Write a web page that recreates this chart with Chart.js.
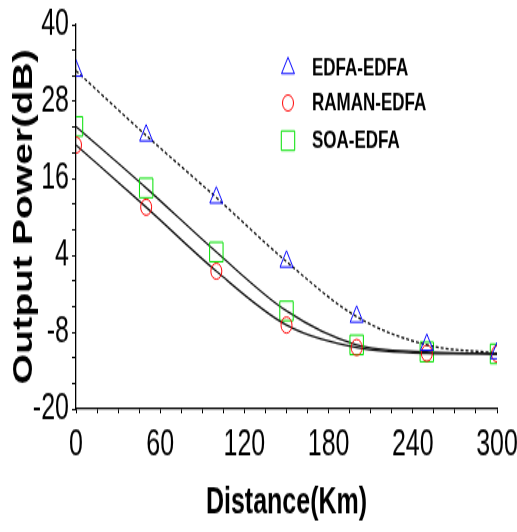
<!DOCTYPE html>
<html>
<head>
<meta charset="utf-8">
<script src="https://cdn.jsdelivr.net/npm/chart.js@4.4.0/dist/chart.umd.min.js"></script>
<style>
  html, body { margin: 0; padding: 0; background: #fff; }
  body { height: 532px; }
  /* the source figure is stretched vertically, so the whole chart is drawn squat and scaled */
  #wrap { width: 517px; height: 367px; transform: scaleY(1.45); transform-origin: 0 0; }
</style>
</head>
<body>
<div id="wrap"><canvas id="chart" width="517" height="367"></canvas></div>
<script>
const distances = [0, 50, 100, 150, 200, 250, 300];
const edfaEdfa = [32.8, 22.7, 13.0, 3.0, -5.6, -10.0, -11.3];
const ramanEdfa = [21.2, 11.5, 1.5, -6.9, -10.4, -11.3, -11.4];
const soaEdfa = [24.1, 14.5, 4.5, -4.7, -10.0, -11.1, -11.4];
const seriesNames = ['EDFA-EDFA', 'RAMAN-EDFA', 'SOA-EDFA'];
const xLabelEvery = 60;
const yLabelValues = [-20, -8, 4, 16, 28, 40];

const FONT = "'Liberation Sans', Arial, sans-serif";

function toPoints(values) {
    return distances.map((d, i) => ({ x: d, y: values[i] }));
}

function series(label, values, color, style, radius, dash) {
    return {
        label,
        data: toPoints(values),
        borderColor: '#111',
        borderWidth: 1.3,
        borderDash: dash,
        cubicInterpolationMode: 'monotone',
        pointStyle: style,
        pointRadius: radius,
        pointBorderColor: color,
        pointBackgroundColor: 'rgba(0,0,0,0)',
        pointBorderWidth: 1,
        fill: false
    };
}

const insideLegend = {
    id: 'insideLegend',
    afterDraw(chart) {
        const { ctx } = chart;
        const rows = [47, 71, 97];
        ctx.save();
        chart.data.datasets.forEach((ds, i) => {
            ctx.strokeStyle = ds.pointBorderColor;
            ctx.fillStyle = 'rgba(0,0,0,0)';
            ctx.lineWidth = 1;
            Chart.helpers.drawPoint(ctx, {
                pointStyle: ds.pointStyle,
                radius: ds.pointRadius,
                rotation: 0,
                borderWidth: 1
            }, 288, rows[i]);
            ctx.fillStyle = '#000';
            ctx.font = `bold 17px ${FONT}`;
            ctx.textBaseline = 'middle';
            ctx.textAlign = 'left';
            ctx.fillText(ds.label, 312, rows[i]);
        });
        ctx.restore();
    }
};

const ctx = document.getElementById('chart').getContext('2d');
new Chart(ctx, {
    type: 'line',
    data: {
        datasets: [
            series(seriesNames[0], edfaEdfa, '#0000ff', 'triangle', 7.5, [3, 2]),
            series(seriesNames[1], ramanEdfa, '#ff0000', 'circle', 5.5, []),
            series(seriesNames[2], soaEdfa, '#00e000', 'rect', 9.5, [])
        ]
    },
    plugins: [insideLegend],
    options: {
        responsive: false,
        animation: false,
        devicePixelRatio: 1,
        layout: { padding: { top: 17, right: 20, left: 0, bottom: 0 } },
        plugins: {
            legend: { display: false },
            tooltip: { enabled: false }
        },
        scales: {
            x: {
                type: 'linear',
                min: 0,
                max: 300,
                afterFit: (s) => {
                    s.height = 85;
                    s.paddingLeft = 0;
                    s.paddingRight = 0;
                },
                ticks: {
                    stepSize: 15,
                    autoSkip: false,
                    maxRotation: 0,
                    padding: 7,
                    color: '#000',
                    font: { family: FONT, size: 25 },
                    callback: (v) => (v % xLabelEvery === 0 ? String(v) : '')
                },
                grid: { drawOnChartArea: false, drawTicks: true, tickLength: 3, color: '#000' },
                border: { display: true, color: '#000', width: 1.3 },
                title: {
                    display: true,
                    text: 'Distance(Km)',
                    color: '#000',
                    font: { family: FONT, size: 25, weight: 'bold' },
                    padding: { top: 0, bottom: 5 }
                }
            },
            y: {
                min: -20,
                max: 40,
                afterFit: (s) => {
                    s.width = 76;
                    s.paddingTop = 0;
                    s.paddingBottom = 0;
                },
                ticks: {
                    stepSize: 4,
                    autoSkip: false,
                    padding: 3,
                    color: '#000',
                    font: { family: FONT, size: 25 },
                    callback: (v) => (yLabelValues.includes(v) ? String(v) : '')
                },
                grid: { drawOnChartArea: false, drawTicks: true, tickLength: 4, color: '#000' },
                border: { display: true, color: '#000', width: 1.3 },
                title: {
                    display: true,
                    text: 'Output Power(dB)',
                    color: '#000',
                    font: { family: FONT, size: 27, weight: 'bold' },
                    padding: { top: 8, bottom: 0 }
                }
            }
        }
    }
});
</script>
</body>
</html>
